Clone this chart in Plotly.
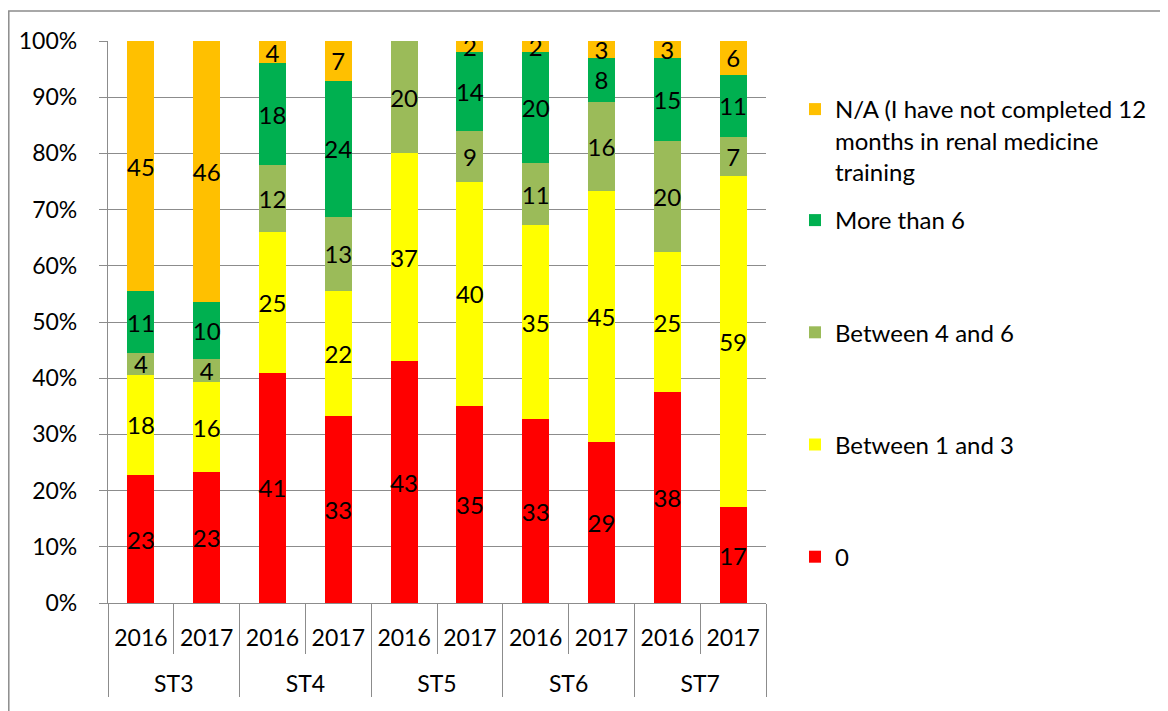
import plotly.graph_objects as go

# ---- data ----
groups = ["ST3", "ST3", "ST4", "ST4", "ST5", "ST5", "ST6", "ST6", "ST7", "ST7"]
years = ["2016", "2017"] * 5
series_names = [
    "0",
    "Between 1 and 3",
    "Between 4 and 6",
    "More than 6",
    "N/A (I have not completed 12<br>months in renal medicine<br>training",
]
zero = [23, 23, 41, 33, 43, 35, 33, 29, 38, 17]
one_to_three = [18, 16, 25, 22, 37, 40, 35, 45, 25, 59]
four_to_six = [4, 4, 12, 13, 20, 9, 11, 16, 20, 7]
more_than_six = [11, 10, 18, 24, None, 14, 20, 8, 15, 11]
not_applicable = [45, 46, 4, 7, None, 2, 2, 3, 3, 6]
series_values = [zero, one_to_three, four_to_six, more_than_six, not_applicable]
colors = ["#FF0000", "#FFFF00", "#9BBB59", "#00B050", "#FFC000"]
legend_ids = ["legend2", "legend2", "legend2", "legend2", "legend"]

FONT = "Lato"
GRID = "#8c8c8c"

OFF = 8  # page body margin
W, H = 1168 - OFF, 711 - OFF
# plot area in page px
L, R, T, B = 108, 766, 41, 603


def px_x(p):
    return (p - L) / (R - L)


def px_y(p):
    return (B - p) / (B - T)


# a blank second line under each year makes room between the two label rows
year_labels = [y + "<br>&nbsp;" for y in years]

fig = go.Figure()
for i, (name, vals, col, lg) in enumerate(
    zip(series_names, series_values, colors, legend_ids)
):
    fig.add_trace(
        go.Bar(
            x=[groups, year_labels],
            y=vals,
            name=name,
            marker=dict(color=col, line=dict(width=0)),
            text=["" if v is None else str(v) for v in vals],
            textposition="inside",
            insidetextanchor="middle",
            textangle=0,
            textfont=dict(color="black", size=24, family=FONT),
            legend=lg,
            legendgroup="g%d" % i,
            legendrank=100 - i,
        )
    )

fig.update_layout(
    template="none",
    width=W,
    height=H,
    margin=dict(l=L - OFF, r=W - (R - OFF), t=T - OFF, b=H - (B - OFF), pad=0),
    barmode="stack",
    barnorm="percent",
    bargap=0.59,
    showlegend=True,
    paper_bgcolor="white",
    plot_bgcolor="white",
    font=dict(family=FONT, size=23, color="black"),
    uniformtext=dict(minsize=24, mode="show"),
    yaxis=dict(
        range=[0, 100],
        dtick=10,
        ticksuffix="%",
        showgrid=True,
        gridcolor=GRID,
        gridwidth=1.3,
        showline=True,
        linecolor=GRID,
        linewidth=1.3,
        ticks="outside",
        ticklen=8,
        tickcolor=GRID,
        tickwidth=1.3,
        ticklabelstandoff=17,
        zeroline=False,
        tickfont=dict(size=23, family=FONT),
    ),
    xaxis=dict(
        type="multicategory",
        showline=True,
        linecolor=GRID,
        linewidth=1.3,
        ticks="outside",
        tickson="boundaries",
        ticklen=50,
        tickcolor=GRID,
        tickwidth=1.3,
        ticklabelstandoff=14,
        showdividers=True,
        dividercolor=GRID,
        dividerwidth=1.3,
        showgrid=False,
        tickfont=dict(size=23, family=FONT),
    ),
    legend=dict(
        x=px_x(795),
        y=px_y(87),
        xanchor="left",
        yanchor="top",
        valign="top",
        font=dict(size=24, family=FONT),
        bgcolor="rgba(0,0,0,0)",
        visible=True,
    ),
    legend2=dict(
        x=px_x(795),
        y=px_y(198),
        xanchor="left",
        yanchor="top",
        traceorder="grouped",
        tracegroupgap=78,
        font=dict(size=24, family=FONT),
        bgcolor="rgba(0,0,0,0)",
    ),
    shapes=[
        dict(
            type="rect",
            xref="paper",
            yref="paper",
            x0=px_x(8.8),
            x1=px_x(1185),
            y0=px_y(730),
            y1=px_y(11),
            line=dict(color="#8c8c8c", width=1.5),
            fillcolor="rgba(0,0,0,0)",
            layer="below",
        )
    ],
)

fig.write_html("out.html")
